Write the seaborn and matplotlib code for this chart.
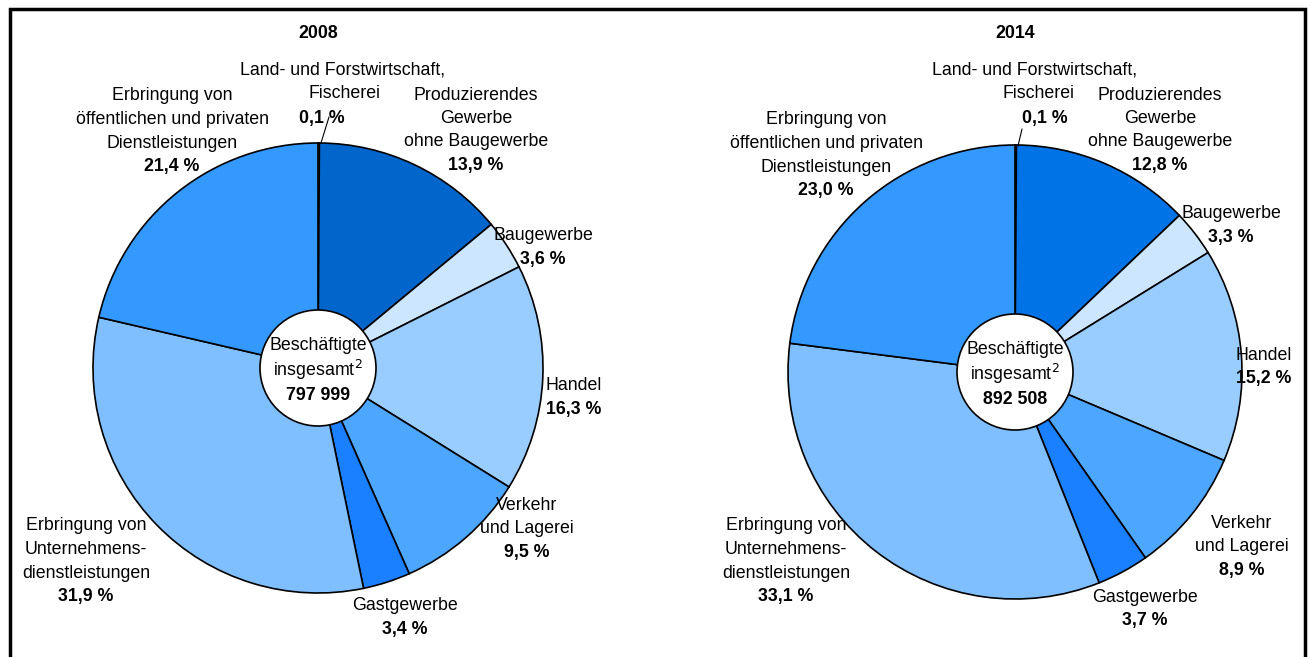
import matplotlib
matplotlib.use("Agg")
import matplotlib.pyplot as plt
import seaborn as sns
from matplotlib.patches import Circle

# shares of employees by sector, clockwise from top
sectors = ["Land", "Produzierendes", "Baugewerbe", "Handel",
           "Verkehr", "Gastgewerbe", "Unternehmens", "Oeffentlich"]
shares_2008 = [0.1, 13.9, 3.6, 16.3, 9.5, 3.4, 31.9, 21.4]
shares_2014 = [0.1, 12.8, 3.3, 15.2, 8.9, 3.7, 33.1, 23.0]
totals = {"2008": "797 999", "2014": "892 508"}

colors_2008 = ["#66b3ff", "#0066cc", "#cce6ff", "#99ccff",
               "#4da6ff", "#1a80ff", "#80bfff", "#3399ff"]
colors_2014 = ["#66b3ff", "#0073e6", "#cce6ff", "#99ccff",
               "#4da6ff", "#1a80ff", "#80bfff", "#3399ff"]

sns.set_theme(style="white")
plt.rcParams["font.family"] = ["Liberation Sans Narrow", "Liberation Sans", "DejaVu Sans"]
plt.rcParams["text.color"] = "black"
plt.rcParams["mathtext.fontset"] = "custom"
plt.rcParams["mathtext.rm"] = "Liberation Sans Narrow"
plt.rcParams["mathtext.it"] = "Liberation Sans Narrow"

W, H = 1314, 657
fig = plt.figure(figsize=(W / 100, H / 100), dpi=100)
ax = fig.add_axes([0, 0, 1, 1])

FS = 12.8


def Y(py):
    return H - py


def label(x, y, name, pct, step=23.5):
    lines = name.split("\n")
    for i, ln in enumerate(lines):
        ax.text(x, Y(y + i * step), ln, ha="center", va="center", fontsize=FS)
    ax.text(x, Y(y + len(lines) * step), pct, ha="center", va="center",
            fontsize=FS, fontweight="bold")


def fmt(v):
    return f"{v:.1f}".replace(".", ",") + " %"


def draw_pie(cx, cy, r, values, colors, year):
    ax.pie(values, colors=colors, startangle=90, counterclock=False,
           center=(cx, Y(cy)), radius=r, frame=True,
           wedgeprops=dict(edgecolor="black", linewidth=1.2))
    ax.add_patch(Circle((cx, Y(cy)), 58, facecolor="white",
                        edgecolor="black", linewidth=1.2, zorder=5))
    ax.text(cx, Y(cy - 22), "Beschäftigte", ha="center", va="center", fontsize=FS, zorder=6)
    ax.text(cx, Y(cy + 2), "insgesamt$^{2}$", ha="center", va="center", fontsize=FS, zorder=6)
    ax.text(cx, Y(cy + 27), totals[year], ha="center", va="center",
            fontsize=FS, fontweight="bold", zorder=6)
    ax.text(cx, Y(33), year, ha="center", va="center", fontsize=FS, fontweight="bold")


# left pie 2008
draw_pie(318, 368, 225, shares_2008, colors_2008, "2008")
ax.text(343, Y(70), "Land- und Forstwirtschaft,", ha="center", va="center", fontsize=FS)
ax.text(345, Y(93), "Fischerei", ha="center", va="center", fontsize=FS)
ax.text(322, Y(118), fmt(shares_2008[0]), ha="center", va="center", fontsize=FS, fontweight="bold")
ax.plot([321, 329], [Y(143), Y(117)], color="black", lw=0.8)
label(476, 95, "Produzierendes\nGewerbe\nohne Baugewerbe", fmt(shares_2008[1]))
label(543, 236, "Baugewerbe", fmt(shares_2008[2]))
label(574, 386, "Handel", fmt(shares_2008[3]))
label(527, 505, "Verkehr\nund Lagerei", fmt(shares_2008[4]))
label(405, 606, "Gastgewerbe", fmt(shares_2008[5]))
label(86, 526, "Erbringung von\nUnternehmens-\ndienstleistungen", fmt(shares_2008[6]))
label(172, 96, "Erbringung von\nöffentlichen und privaten\nDienstleistungen", fmt(shares_2008[7]))

# right pie 2014
draw_pie(1015, 372, 227, shares_2014, colors_2014, "2014")
ax.text(1035, Y(70), "Land- und Forstwirtschaft,", ha="center", va="center", fontsize=FS)
ax.text(1038, Y(93), "Fischerei", ha="center", va="center", fontsize=FS)
ax.text(1045, Y(118), fmt(shares_2014[0]), ha="center", va="center", fontsize=FS, fontweight="bold")
ax.plot([1018, 1022], [Y(146), Y(129)], color="black", lw=0.8)
label(1160, 95, "Produzierendes\nGewerbe\nohne Baugewerbe", fmt(shares_2014[1]))
label(1231, 214, "Baugewerbe", fmt(shares_2014[2]))
label(1264, 355, "Handel", fmt(shares_2014[3]))
label(1242, 523, "Verkehr\nund Lagerei", fmt(shares_2014[4]))
label(1145, 597, "Gastgewerbe", fmt(shares_2014[5]))
label(786, 526, "Erbringung von\nUnternehmens-\ndienstleistungen", fmt(shares_2014[6]))
label(826, 120, "Erbringung von\nöffentlichen und privaten\nDienstleistungen", fmt(shares_2014[7]))

ax.set_xlim(0, W)
ax.set_ylim(0, H)
ax.set_aspect("equal")
ax.axis("off")

# outer frame (bottom edge is cut off in the reference)
ax.plot([10, 10, 1305, 1305], [0, Y(9), Y(9), 0], color="black", lw=2.5,
        solid_joinstyle="miter", clip_on=False)

fig.savefig("out.png", dpi=100)
